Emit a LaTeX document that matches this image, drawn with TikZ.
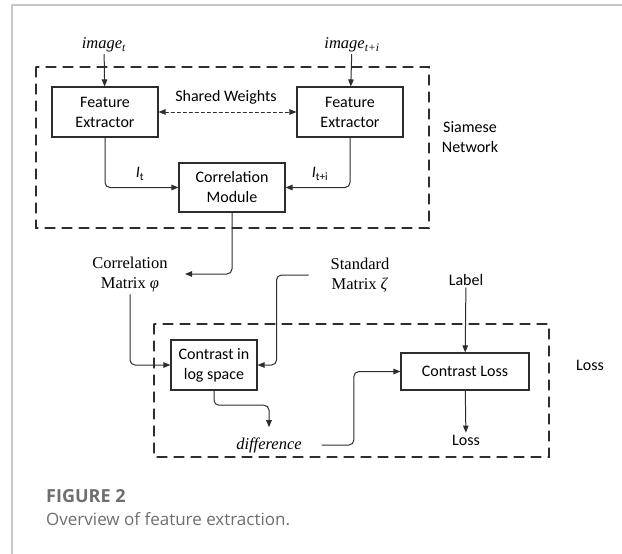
\documentclass[tikz,border=0pt]{standalone}
\usepackage{fontspec}
\setmainfont{Liberation Serif}
\newfontfamily\boxfont{Carlito}
\newfontfamily\capfont{Open Sans}
\usetikzlibrary{arrows.meta}
\definecolor{inkline}{RGB}{45,45,45}
\definecolor{framegray}{RGB}{200,200,200}
\definecolor{capgray}{RGB}{110,110,110}

\begin{document}
\begin{tikzpicture}[x=1pt,y=-1pt,line cap=round,
  box/.style={draw=inkline,line width=1.1pt,minimum width=106pt,minimum height=50pt,
    align=center,inner sep=2pt,font=\boxfont\fontsize{16}{20}\selectfont},
  sans/.style={align=center,inner sep=2pt,font=\boxfont\fontsize{16}{20}\selectfont},
  serif/.style={align=center,inner sep=2pt,font=\fontsize{16.5}{20}\selectfont},
  link/.style={draw=inkline,line width=1pt,rounded corners=5pt,-{Triangle[length=7pt,width=5.5pt]}},
  group/.style={draw=inkline,line width=1.1pt,dash pattern=on 10pt off 7pt}]
  \useasboundingbox (0,0) rectangle (622,554);
  % page frame
  \draw[framegray,line width=1.2pt] (12,554) -- (12,5) -- (622,5);

  % dashed groups
  \draw[group] (36,67) rectangle (429,228);
  \draw[group] (154,324) rectangle (549,457);
  \node[sans] (siam) at (470,137) {Siamese\\Network};
  \node[sans] (lossgrp) at (590,365) {Loss};

  % siamese part
  \node[serif] (imgt) at (104,45) {\textit{image}\textsubscript{\textit{t}}};
  \node[serif] (imgti) at (352,45) {\textit{image}\textsubscript{\textit{t+i}}};
  \node[box] (fe1) at (105,112) {Feature\\Extractor};
  \node[box] (fe2) at (350,112) {Feature\\Extractor};
  \node[box,minimum height=49pt] (corr) at (232,187.5) {Correlation\\Module};
  \node[sans] (sw) at (226,97) {Shared Weights};
  \node[sans] (It) at (140,174) {\textit{I}\textsubscript{t}};
  \node[sans] (Iti) at (320,174) {\textit{I}\textsubscript{t+i}};

  \draw[link] (imgt) -- (fe1);
  \draw[link] (imgti) -- (fe2);
  \draw[link,dashed,{Triangle[length=7pt,width=5.5pt]}-{Triangle[length=7pt,width=5.5pt]}] (fe1) -- (fe2);
  \draw[link] (fe1.south) |- (corr.west);
  \draw[link] (fe2.south) |- (corr.east);

  % loss part
  \node[serif] (cm) at (130,275) {Correlation\\Matrix \textit{φ}};
  \node[serif] (sm) at (360,275) {Standard\\Matrix \textit{ζ}};
  \node[sans] (lab) at (466,280) {Label};
  \node[box,minimum width=86pt] (cls) at (214,365) {Contrast in\\log space};
  \node[box,minimum width=128pt,minimum height=37pt] (cl) at (465,371.5) {Contrast Loss};
  \node[serif] (diff) at (269,445) {\textit{difference}};
  \node[sans] (loss) at (466,440) {Loss};
  \coordinate (cmin) at (185,274);

  \draw[link] (corr.south) |- (cmin);
  \draw[link] (cm.south) |- (cls.west);
  \draw[link] ([xshift=-20pt]sm.west) -| ([xshift=19pt]cls.east) -- (cls.east);
  \draw[link] (lab) -- (cl);
  \draw[link] (cls.south) |- ([yshift=30pt]diff.north) -- ([yshift=8pt]diff.north);
  \draw[link] ([xshift=18pt]diff.east) -- ++(32,0) |- (cl.west);
  \draw[link] (cl) -- (loss);

  % caption
  \node[anchor=west,inner sep=0pt,text=capgray,font=\capfont\bfseries\fontsize{18}{22}\selectfont] (fig) at (46,496) {FIGURE 2};
  \node[anchor=west,inner sep=0pt,text=capgray,font=\capfont\fontsize{17}{22}\selectfont] (cap) at (46,519) {Overview of feature extraction.};
\end{tikzpicture}
\end{document}
